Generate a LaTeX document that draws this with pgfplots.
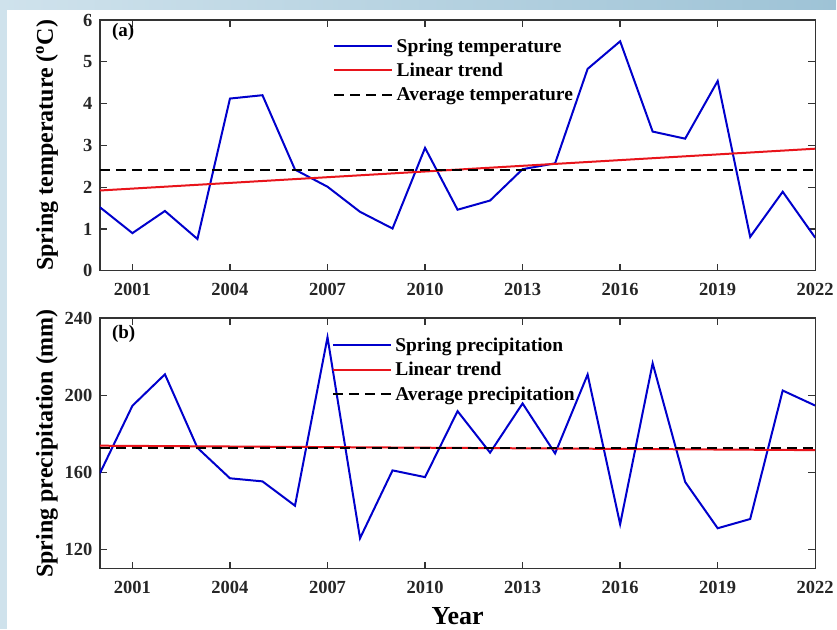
\documentclass[border=0pt]{standalone}
\usepackage{fontspec}
\setmainfont{Liberation Serif}
\usepackage{pgfplots}
\pgfplotsset{compat=1.18}
\definecolor{bgL}{HTML}{CFE2EC}
\definecolor{bgR}{HTML}{9EC3D6}
\definecolor{lblue}{HTML}{0000CC}
\definecolor{lred}{HTML}{E8141B}
\definecolor{axgray}{HTML}{333333}
\pgfplotsset{
  legend image code/.code={\draw[#1] (0pt,0pt) -- (58pt,0pt);},
}
\pgfplotsset{common/.style={
  scale only axis, width=716pt, height=251pt,
  xmin=2000, xmax=2022, xtick={2001,2004,...,2022},
  tick align=inside, major tick length=7pt,
  axis line style={axgray, line width=1.3pt},
  tick style={axgray, line width=1.3pt},
  ticklabel style={font=\fontsize{18.5}{21}\selectfont\bfseries, text=black!85},
  xticklabel style={yshift=-9pt},
  yticklabel style={xshift=-4pt},
  /pgf/number format/assume math mode=true,
  /pgf/number format/1000 sep={},
  legend cell align=left,
  legend style={draw=none, fill=none, font=\fontsize{19.5}{22}\selectfont\bfseries, anchor=north west, inner sep=0pt, row sep=5.5pt,
    nodes={inner sep=2pt}},
  legend style={/tikz/nodes={inner xsep=3.5pt}},
  every axis y label/.style={at={(axis description cs:-0.074,0.5)}, rotate=90, anchor=center, font=\fontsize{24}{26}\selectfont\bfseries},
}}
\begin{document}
\begin{tikzpicture}
\fill[bgL] (0pt,0pt) rectangle (837pt,630pt);
\shade[left color=bgL,right color=bgR] (0pt,620pt) rectangle (837pt,630pt);
\fill[white] (7pt,0pt) rectangle (837pt,620pt);
\begin{axis}[common, at={(100pt,359pt)}, ymin=0, ymax=6, ytick={0,1,...,6},
  ylabel={Spring temperature (\textsuperscript{o}C)},
  legend style={at={(rel axis cs:0.326,0.935)}}]
\addplot[lblue, line width=2pt] coordinates {(2000,1.52)(2001,0.90)(2002,1.43)(2003,0.76)(2004,4.12)(2005,4.20)(2006,2.42)(2007,2.01)(2008,1.41)(2009,1.01)(2010,2.94)(2011,1.46)(2012,1.68)(2013,2.43)(2014,2.57)(2015,4.83)(2016,5.49)(2017,3.33)(2018,3.16)(2019,4.54)(2020,0.81)(2021,1.89)(2022,0.79)};
\addlegendentry{Spring temperature}
\addplot[lred, line width=2pt] coordinates {(2000,1.92)(2022,2.92)};
\addlegendentry{Linear trend}
\addplot[black, line width=2pt, dash pattern=on 10pt off 6pt] coordinates {(2000,2.42)(2022,2.42)};
\addlegendentry{Average temperature}
\node[anchor=north west, font=\fontsize{19}{21}\selectfont\bfseries] at (rel axis cs:0.012,1.0) {(a)};
\end{axis}
\begin{axis}[common, at={(100pt,60.7pt)}, ymin=110, ymax=240, ytick={120,160,200,240},
  ylabel={Spring precipitation (mm)},
  xlabel={Year}, xlabel style={font=\fontsize{26}{28}\selectfont\bfseries, yshift=-7pt},
  legend style={at={(rel axis cs:0.324,0.93)}}]
\addplot[lblue, line width=2pt] coordinates {(2000,159.5)(2001,194.5)(2002,210.8)(2003,172.7)(2004,156.9)(2005,155.3)(2006,142.7)(2007,230.0)(2008,125.8)(2009,161.0)(2010,157.5)(2011,191.7)(2012,170.2)(2013,195.7)(2014,169.8)(2015,210.7)(2016,133.1)(2017,216.5)(2018,155.0)(2019,131.0)(2020,135.8)(2021,202.4)(2022,194.6)};
\addlegendentry{Spring precipitation}
\addplot[lred, line width=2pt] coordinates {(2000,173.8)(2022,171.5)};
\addlegendentry{Linear trend}
\addplot[black, line width=2pt, dash pattern=on 10pt off 6pt] coordinates {(2000,172.6)(2022,172.6)};
\addlegendentry{Average precipitation}
\node[anchor=north west, font=\fontsize{19}{21}\selectfont\bfseries] at (rel axis cs:0.012,0.985) {(b)};
\end{axis}
\end{tikzpicture}
\end{document}
